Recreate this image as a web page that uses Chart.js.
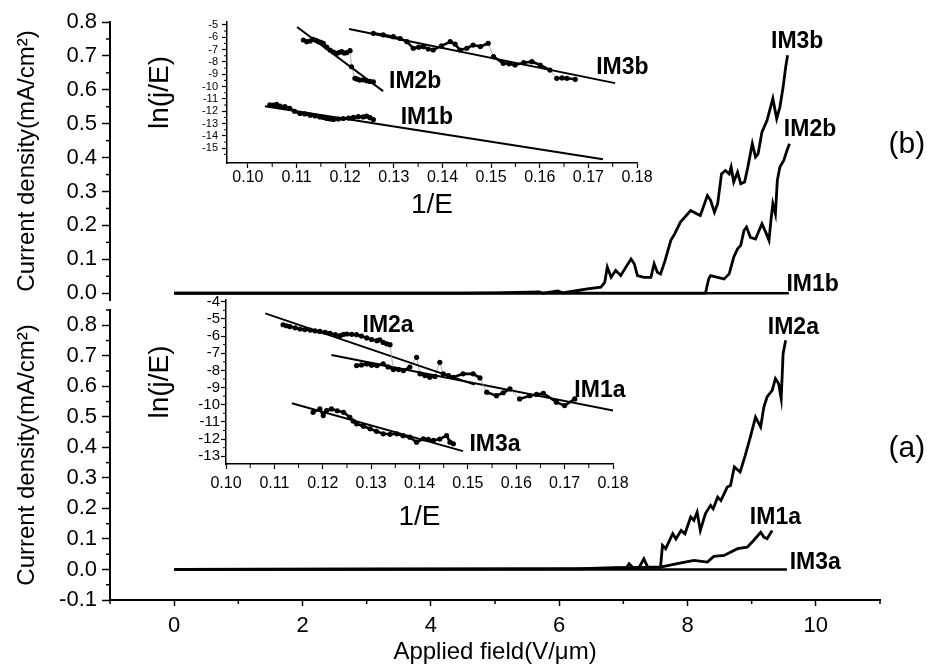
<!DOCTYPE html>
<html>
<head>
<meta charset="utf-8">
<script src="https://cdn.jsdelivr.net/npm/chart.js@4.4.0/dist/chart.umd.min.js"></script>
<style>
  html, body { margin: 0; padding: 0; background: #fff; }
  #wrap { position: relative; width: 927px; height: 671px; overflow: hidden; background: #fff; }
  .box { position: absolute; }
  canvas { display: block; }
</style>
</head>
<body>
<div id="wrap">
  <div class="box" style="left:0;top:0;width:927px;height:320px"><canvas id="mainB" width="927" height="320"></canvas></div>
  <div class="box" style="left:0;top:285px;width:927px;height:386px"><canvas id="mainA" width="927" height="386"></canvas></div>
  <div class="box" style="left:130px;top:0;width:540px;height:225px"><canvas id="insetB" width="540" height="225"></canvas></div>
  <div class="box" style="left:130px;top:290px;width:540px;height:250px"><canvas id="insetA" width="540" height="250"></canvas></div>
</div>
<script>
// ---- main panel (b): current density vs applied field
const fieldIM1b = [0, 9.58];
const currIM1b = [0, 0];
const fieldIM2b = [0, 8.28, 8.33, 8.36, 8.47, 8.57, 8.65, 8.72, 8.78, 8.83, 8.88, 8.92, 8.98, 9.06, 9.16, 9.23, 9.27, 9.30, 9.33, 9.37, 9.40, 9.44, 9.50, 9.55, 9.59];
const currIM2b = [0, 0.000, 0.042, 0.052, 0.047, 0.042, 0.057, 0.106, 0.131, 0.141, 0.185, 0.195, 0.165, 0.160, 0.205, 0.175, 0.156, 0.215, 0.264, 0.234, 0.333, 0.372, 0.392, 0.421, 0.441];
const fieldIM3b = [0, 4.48, 5.0, 5.69, 5.75, 5.98, 6.05, 6.29, 6.44, 6.65, 6.71, 6.75, 6.81, 6.88, 6.96, 7.04, 7.12, 7.17, 7.22, 7.32, 7.43, 7.48, 7.53, 7.58, 7.65, 7.74, 7.80, 7.89, 8.05, 8.15, 8.20, 8.31, 8.36, 8.42, 8.47, 8.53, 8.59, 8.65, 8.68, 8.72, 8.78, 8.83, 8.89, 8.94, 9.01, 9.06, 9.10, 9.16, 9.24, 9.33, 9.39, 9.44, 9.49, 9.53, 9.56];
const currIM3b = [0, 0, 0.001, 0.004, 0.0, 0.007, 0.001, 0.008, 0.013, 0.018, 0.032, 0.077, 0.047, 0.067, 0.052, 0.077, 0.101, 0.087, 0.052, 0.047, 0.047, 0.087, 0.062, 0.057, 0.096, 0.156, 0.175, 0.210, 0.244, 0.234, 0.229, 0.288, 0.274, 0.239, 0.264, 0.352, 0.362, 0.352, 0.372, 0.328, 0.357, 0.323, 0.328, 0.372, 0.441, 0.402, 0.411, 0.475, 0.510, 0.574, 0.515, 0.549, 0.608, 0.667, 0.702];

// ---- main panel (a)
const fieldIM3a = [0, 9.55];
const currIM3a = [0, 0];
const fieldIM2a = [0, 6.3, 6.6, 6.9, 7.05, 7.09, 7.15, 7.25, 7.32, 7.38, 7.58, 7.61, 7.66, 7.77, 7.82, 7.90, 7.96, 8.05, 8.10, 8.15, 8.20, 8.28, 8.36, 8.40, 8.47, 8.52, 8.62, 8.67, 8.73, 8.82, 8.90, 8.98, 9.06, 9.14, 9.19, 9.24, 9.32, 9.37, 9.42, 9.46, 9.49, 9.53];
const currIM2a = [0, 0.002, 0.004, 0.006, 0.006, 0.019, 0.006, 0.008, 0.035, 0.008, 0.008, 0.079, 0.068, 0.117, 0.100, 0.128, 0.117, 0.172, 0.161, 0.188, 0.128, 0.183, 0.210, 0.199, 0.237, 0.226, 0.270, 0.275, 0.336, 0.319, 0.374, 0.434, 0.499, 0.467, 0.532, 0.565, 0.587, 0.625, 0.609, 0.560, 0.707, 0.751];
const fieldIM1a = [0, 6.5, 7.0, 7.58, 7.84, 8.10, 8.31, 8.41, 8.57, 8.78, 8.93, 9.03, 9.14, 9.19, 9.24, 9.32];
const currIM1a = [0, 0.003, 0.005, 0.008, 0.019, 0.030, 0.024, 0.043, 0.046, 0.068, 0.073, 0.095, 0.122, 0.106, 0.101, 0.128];

// ---- inset (b): ln(j/E) vs 1/E, measured points and linear fits
const invE_IM2b = [0.1114, 0.1121, 0.1128, 0.1134, 0.1140, 0.1145, 0.1150, 0.1155, 0.1162, 0.1169, 0.1176, 0.1183, 0.1188, 0.1193, 0.1198, 0.1203, 0.1210, 0.1213, 0.1220, 0.1225, 0.1230, 0.1237, 0.1244, 0.1251, 0.1258];
const lnjE_IM2b = [-6.22, -6.36, -6.30, -6.17, -6.25, -6.36, -6.42, -6.49, -6.80, -7.03, -7.20, -7.30, -7.22, -7.17, -7.28, -7.25, -7.09, -8.39, -9.33, -9.40, -9.47, -9.45, -9.53, -9.58, -9.61];
const fitX_IM2b = [0.1101, 0.1278];
const fitY_IM2b = [-5.16, -10.37];
const invE_IM3b = [0.1258, 0.1278, 0.1299, 0.1313, 0.1327, 0.1340, 0.1351, 0.1361, 0.1371, 0.1381, 0.1398, 0.1416, 0.1426, 0.1436, 0.1450, 0.1463, 0.1478, 0.1494, 0.1505, 0.1525, 0.1537, 0.1549, 0.1567, 0.1584, 0.1601, 0.1621, 0.1635, 0.1646, 0.1656, 0.1673];
const lnjE_IM3b = [-5.68, -5.80, -5.95, -6.10, -6.36, -6.89, -6.80, -6.76, -6.95, -7.03, -6.70, -6.36, -6.55, -7.03, -6.89, -6.63, -6.75, -6.49, -7.57, -8.11, -8.15, -8.25, -8.06, -7.98, -8.25, -8.66, -9.33, -9.30, -9.33, -9.41];
const fitX_IM3b = [0.1208, 0.1755];
const fitY_IM3b = [-5.33, -9.72];
const invE_IM1b = [0.1045, 0.1052, 0.1059, 0.1066, 0.1076, 0.1086, 0.1096, 0.1107, 0.1117, 0.1128, 0.1138, 0.1148, 0.1155, 0.1162, 0.1169, 0.1176, 0.1186, 0.1196, 0.1207, 0.1217, 0.1227, 0.1237, 0.1244, 0.1251, 0.1258];
const lnjE_IM1b = [-11.49, -11.50, -11.45, -11.59, -11.62, -11.77, -12.00, -12.18, -12.22, -12.32, -12.38, -12.46, -12.50, -12.59, -12.62, -12.67, -12.63, -12.59, -12.55, -12.50, -12.44, -12.46, -12.40, -12.52, -12.67];
const fitX_IM1b = [0.1035, 0.1730];
const fitY_IM1b = [-11.59, -15.89];

// ---- inset (a)
const invE_IM2a = [0.1118, 0.1125, 0.1132, 0.1143, 0.1153, 0.1163, 0.1174, 0.1184, 0.1194, 0.1205, 0.1215, 0.1226, 0.1236, 0.1243, 0.1250, 0.1260, 0.1270, 0.1280, 0.1291, 0.1301, 0.1312, 0.1318, 0.1325, 0.1332, 0.1339, 0.1346];
const lnjE_IM2a = [-5.34, -5.40, -5.45, -5.52, -5.59, -5.62, -5.65, -5.70, -5.73, -5.78, -5.84, -5.92, -5.98, -5.90, -5.88, -5.90, -5.92, -6.00, -6.11, -6.20, -6.27, -6.22, -6.37, -6.45, -6.50, -7.95];
const fitX_IM2a = [0.1081, 0.1514];
const fitY_IM2a = [-4.68, -8.83];
const invE_IM1a = [0.1270, 0.1280, 0.1291, 0.1301, 0.1312, 0.1325, 0.1335, 0.1346, 0.1357, 0.1367, 0.1380, 0.1394, 0.1401, 0.1411, 0.1421, 0.1432, 0.1442, 0.1449, 0.1460, 0.1470, 0.1490, 0.1511, 0.1525, 0.1539, 0.1559, 0.1573, 0.1587, 0.1607, 0.1628, 0.1642, 0.1656, 0.1683, 0.1700, 0.1721];
const lnjE_IM1a = [-7.72, -7.68, -7.62, -7.70, -7.72, -7.62, -7.80, -7.91, -7.95, -8.01, -7.81, -7.24, -8.20, -8.30, -8.40, -8.35, -7.53, -8.20, -8.30, -8.40, -8.20, -8.20, -8.44, -9.27, -9.47, -9.30, -9.08, -9.66, -9.47, -9.40, -9.33, -9.85, -10.05, -9.66];
const fitX_IM1a = [0.1218, 0.1818];
const fitY_IM1a = [-7.10, -10.44];
const invE_IM3a = [0.1180, 0.1194, 0.1201, 0.1208, 0.1218, 0.1230, 0.1243, 0.1256, 0.1263, 0.1270, 0.1284, 0.1298, 0.1311, 0.1325, 0.1339, 0.1353, 0.1366, 0.1380, 0.1394, 0.1408, 0.1418, 0.1429, 0.1442, 0.1456, 0.1463, 0.1470];
const lnjE_IM3a = [-10.44, -10.24, -10.63, -10.34, -10.24, -10.35, -10.44, -10.73, -10.95, -11.11, -11.25, -11.40, -11.55, -11.69, -11.72, -11.69, -11.80, -11.89, -12.18, -11.98, -12.02, -12.08, -12.00, -11.79, -12.18, -12.27];
const fitX_IM3a = [0.1136, 0.1490];
const fitY_IM3a = [-9.91, -12.70];

// ---- tick labels
const fieldTicks = [0, 2, 4, 6, 8, 10];
const currTicksB = [0.0, 0.1, 0.2, 0.3, 0.4, 0.5, 0.6, 0.7, 0.8];
const currTicksA = [-0.1, 0.0, 0.1, 0.2, 0.3, 0.4, 0.5, 0.6, 0.7, 0.8];
const invETicks = [0.10, 0.11, 0.12, 0.13, 0.14, 0.15, 0.16, 0.17, 0.18];
const lnTicksB = [-15, -14, -13, -12, -11, -10, -9, -8, -7, -6, -5];
const lnTicksA = [-13, -12, -11, -10, -9, -8, -7, -6, -5, -4];

const FONT = "'Liberation Sans', Arial, Helvetica, sans-serif";

function pts(xs, ys) {
    return xs.map((x, i) => ({ x: x, y: ys[i] }));
}

function curve(xs, ys, w) {
    return { data: pts(xs, ys), borderColor: '#000', borderWidth: w, pointRadius: 0, tension: 0, fill: false };
}

// measured points: thick black trace, big jumps drawn as thin grey connectors
function dots(xs, ys) {
    const jump = c => Math.abs(c.p1.parsed.y - c.p0.parsed.y) > 0.55;
    return {
        data: pts(xs, ys), borderColor: '#000', borderWidth: 2.6, tension: 0, fill: false,
        pointRadius: 2.6, pointBackgroundColor: '#000', pointBorderWidth: 0,
        segment: {
            borderColor: c => jump(c) ? '#9a9a9a' : '#000',
            borderWidth: c => jump(c) ? 0.8 : 2.6
        }
    };
}

// midpoints between major ticks (plus one step past each end) for the small tick marks
function halfSteps(ticks, lo, hi) {
    const step = ticks[1] - ticks[0];
    const out = [];
    for (let v = ticks[0] - step / 2; v <= ticks[ticks.length - 1] + step; v += step) {
        if (v >= lo - 1e-9 && v <= hi + 1e-9) out.push(+v.toFixed(4));
    }
    return out;
}

function axis(o) {
    return {
        type: 'linear', position: o.pos, min: o.min, max: o.max,
        display: o.display !== false,
        afterBuildTicks: s => { s.ticks = o.ticks.map(v => ({ value: v })); },
        afterFit: s => { if (o.pos === 'left') s.width = o.size; else s.height = o.size; },
        border: { display: true, color: '#000', width: o.bw },
        grid: { drawOnChartArea: false, drawTicks: true, tickLength: o.tl, tickWidth: o.tw, tickColor: '#000' },
        ticks: { color: '#000', padding: o.pad, font: { family: FONT, size: o.fs }, callback: o.fmt, autoSkip: false, maxRotation: 0 },
        title: o.title ? { display: true, text: o.title, color: '#000', font: { family: FONT, size: o.ts }, padding: o.tp } : { display: false }
    };
}

function minorTicks(specs) {
    return {
        id: 'minorTicks',
        afterDraw(chart) {
            const ctx = chart.ctx;
            ctx.save();
            ctx.strokeStyle = '#000';
            specs.forEach(m => {
                const s = chart.scales[m.id];
                ctx.lineWidth = m.w;
                m.values.forEach(v => {
                    const p = s.getPixelForValue(v);
                    ctx.beginPath();
                    if (s.isHorizontal()) { ctx.moveTo(p, s.top); ctx.lineTo(p, s.top + m.len); }
                    else { ctx.moveTo(s.right, p); ctx.lineTo(s.right - m.len, p); }
                    ctx.stroke();
                });
            });
            ctx.restore();
        }
    };
}

function textMarks(items) {
    return {
        id: 'textMarks',
        afterDraw(chart) {
            const ctx = chart.ctx;
            const xs = chart.scales.x, ys = chart.scales.y;
            ctx.save();
            ctx.fillStyle = '#000';
            ctx.textAlign = 'center';
            ctx.textBaseline = 'middle';
            items.forEach(t => {
                ctx.font = t.font;
                ctx.fillText(t.text, xs.getPixelForValue(t.x), ys.getPixelForValue(t.y));
            });
            ctx.restore();
        }
    };
}

const LBL = 'bold 23px ' + FONT;
const PANEL = '30px ' + FONT;

const baseOpts = {
    responsive: false,
    animation: false,
    events: [],
    plugins: { legend: { display: false }, tooltip: { enabled: false } }
};

// ---------- main (b)
new Chart(document.getElementById('mainB'), {
    type: 'line',
    data: {
        datasets: [
            curve(fieldIM1b, currIM1b, 2.5),
            curve(fieldIM2b, currIM2b, 2.8),
            curve(fieldIM3b, currIM3b, 2.8)
        ]
    },
    options: Object.assign({}, baseOpts, {
        layout: { padding: { top: 22, right: 47, bottom: 20, left: 0 } },
        scales: {
            x: axis({ pos: 'bottom', min: -1, max: 11, ticks: fieldTicks, display: false, size: 0, bw: 2, tl: 6, tw: 1.5, pad: 7, fs: 22 }),
            y: axis({ pos: 'left', min: -0.02, max: 0.8, ticks: currTicksB, size: 110, bw: 2, tl: 8, tw: 1.5, pad: 5, fs: 22,
                fmt: v => v.toFixed(1), title: 'Current density(mA/cm²)', ts: 24, tp: { top: 13, bottom: 0 } })
        }
    }),
    plugins: [
        minorTicks([{ id: 'y', values: halfSteps(currTicksB, -0.02, 0.8), len: 4, w: 1.5 }]),
        textMarks([
            { text: 'IM3b', x: 9.71, y: 0.741, font: LBL },
            { text: 'IM2b', x: 9.91, y: 0.481, font: LBL },
            { text: 'IM1b', x: 9.95, y: 0.024, font: LBL },
            { text: '(b)', x: 11.42, y: 0.437, font: PANEL }
        ])
    ]
});

// ---------- main (a)
new Chart(document.getElementById('mainA'), {
    type: 'line',
    data: {
        datasets: [
            curve(fieldIM3a, currIM3a, 2.5),
            curve(fieldIM1a, currIM1a, 2.8),
            curve(fieldIM2a, currIM2a, 2.8)
        ]
    },
    options: Object.assign({}, baseOpts, {
        layout: { padding: { top: 25, right: 47, bottom: 0, left: 0 } },
        scales: {
            x: axis({ pos: 'bottom', min: -1, max: 11, ticks: fieldTicks, size: 71, bw: 2, tl: 6, tw: 1.5, pad: 7, fs: 22,
                fmt: v => String(v), title: 'Applied field(V/μm)', ts: 24, tp: { top: 0, bottom: 4 } }),
            y: axis({ pos: 'left', min: -0.1, max: 0.85, ticks: currTicksA, size: 110, bw: 2, tl: 8, tw: 1.5, pad: 5, fs: 22,
                fmt: v => v.toFixed(1), title: 'Current density(mA/cm²)', ts: 24, tp: { top: 13, bottom: 0 } })
        }
    }),
    plugins: [
        minorTicks([
            { id: 'y', values: halfSteps(currTicksA, -0.1, 0.85), len: 4, w: 1.5 },
            { id: 'x', values: halfSteps(fieldTicks, -1, 11), len: 4, w: 1.5 }
        ]),
        textMarks([
            { text: 'IM2a', x: 9.65, y: 0.793, font: LBL },
            { text: 'IM1a', x: 9.37, y: 0.170, font: LBL },
            { text: 'IM3a', x: 9.99, y: 0.023, font: LBL },
            { text: '(a)', x: 11.42, y: 0.397, font: PANEL }
        ])
    ]
});

// ---------- inset (b)
new Chart(document.getElementById('insetB'), {
    type: 'line',
    data: {
        datasets: [
            dots(invE_IM2b, lnjE_IM2b), curve(fitX_IM2b, fitY_IM2b, 2),
            dots(invE_IM3b, lnjE_IM3b), curve(fitX_IM3b, fitY_IM3b, 2),
            dots(invE_IM1b, lnjE_IM1b), curve(fitX_IM1b, fitY_IM1b, 2)
        ]
    },
    options: Object.assign({}, baseOpts, {
        layout: { padding: { top: 22, right: 33, bottom: 0, left: 0 } },
        scales: {
            x: axis({ pos: 'bottom', min: 0.0957, max: 0.18, ticks: invETicks, size: 62, bw: 1.5, tl: 5, tw: 1.2, pad: 0, fs: 16,
                fmt: v => v.toFixed(2), title: '1/E', ts: 28, tp: { top: 0, bottom: 3 } }),
            y: axis({ pos: 'left', min: -16.2, max: -4.76, ticks: lnTicksB, size: 97, bw: 1.5, tl: 5, tw: 1.2, pad: 4, fs: 11,
                fmt: v => String(v), title: 'ln(j/E)', ts: 28, tp: { top: 13, bottom: 0 } })
        }
    }),
    plugins: [
        minorTicks([
            { id: 'y', values: halfSteps(lnTicksB, -16.2, -4.76), len: 3, w: 1 },
            { id: 'x', values: halfSteps(invETicks, 0.0957, 0.18), len: 4, w: 1 }
        ]),
        textMarks([
            { text: 'IM2b', x: 0.1344, y: -9.63, font: LBL },
            { text: 'IM1b', x: 0.1368, y: -12.56, font: LBL },
            { text: 'IM3b', x: 0.1770, y: -8.50, font: LBL }
        ])
    ]
});

// ---------- inset (a)
new Chart(document.getElementById('insetA'), {
    type: 'line',
    data: {
        datasets: [
            dots(invE_IM2a, lnjE_IM2a), curve(fitX_IM2a, fitY_IM2a, 2),
            dots(invE_IM1a, lnjE_IM1a), curve(fitX_IM1a, fitY_IM1a, 2),
            dots(invE_IM3a, lnjE_IM3a), curve(fitX_IM3a, fitY_IM3a, 2)
        ]
    },
    options: Object.assign({}, baseOpts, {
        layout: { padding: { top: 9, right: 57, bottom: 0, left: 0 } },
        scales: {
            x: axis({ pos: 'bottom', min: 0.10, max: 0.18, ticks: invETicks, size: 76, bw: 1.5, tl: 5, tw: 1.2, pad: 5, fs: 16,
                fmt: v => v.toFixed(2), title: '1/E', ts: 28, tp: { top: 0, bottom: 6 } }),
            y: axis({ pos: 'left', min: -13.45, max: -3.9, ticks: lnTicksA, size: 96, bw: 1.5, tl: 5, tw: 1.2, pad: 1, fs: 15,
                fmt: v => String(v), title: 'ln(j/E)', ts: 28, tp: { top: 13, bottom: 0 } })
        }
    }),
    plugins: [
        minorTicks([
            { id: 'y', values: halfSteps(lnTicksA, -13.45, -3.9), len: 3, w: 1 },
            { id: 'x', values: halfSteps(invETicks, 0.10, 0.18), len: 4, w: 1 }
        ]),
        textMarks([
            { text: 'IM2a', x: 0.1335, y: -5.41, font: LBL },
            { text: 'IM1a', x: 0.1773, y: -9.17, font: LBL },
            { text: 'IM3a', x: 0.1556, y: -12.35, font: LBL }
        ])
    ]
});
</script>
</body>
</html>
